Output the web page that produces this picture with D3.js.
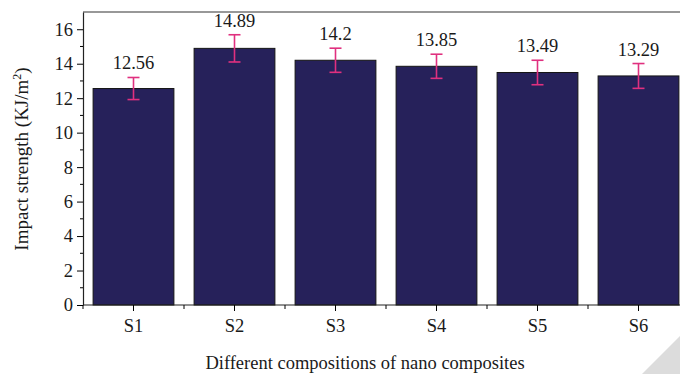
<!DOCTYPE html>
<html lang="en">
<head>
    <meta charset="UTF-8">
    <title>Impact strength</title>
    <style>
        body { margin: 0; background: #fff; }
        text { font-family: "Liberation Serif", "DejaVu Serif", serif; fill: #1a1a1a; }
    </style>
    <script src="https://cdn.jsdelivr.net/npm/d3@7"></script>
</head>
<body>
<svg class="chart"></svg>
<script>
    const
        categories = ['S1', 'S2', 'S3', 'S4', 'S5', 'S6'],
        values = [12.56, 14.89, 14.2, 13.85, 13.49, 13.29],
        errors = [0.64, 0.79, 0.7, 0.7, 0.71, 0.72],
        labels = ['12.56', '14.89', '14.2', '13.85', '13.49', '13.29'],
        yTicks = [0, 2, 4, 6, 8, 10, 12, 14, 16],
        width = 680,
        height = 374,
        fontSize = '18.5px',
        padding = {top: 12, left: 83, bottom: 69};

    const svg = d3.select('.chart').attr('width', width).attr('height', height);

    // 比例尺
    let x = d3.scaleBand().domain(categories).range([padding.left, 689]).paddingInner(0.2).paddingOuter(0.1),
        y = d3.scaleLinear().domain([0, 17]).range([height - padding.bottom, padding.top]);

    // 柱子
    svg.append('g').selectAll('rect')
        .data(categories).enter().append('rect')
        .attr('x', d => x(d))
        .attr('width', x.bandwidth())
        .attr('y', (d, i) => y(values[i]))
        .attr('height', (d, i) => y(0) - y(values[i]))
        .attr('fill', '#26215a')
        .attr('stroke', '#151515')
        .attr('stroke-width', 1);

    // 误差线
    let err = svg.append('g').attr('stroke', '#e0307f').attr('stroke-width', 1.6)
        .selectAll('g').data(categories).enter().append('g');
    err.append('line')
        .attr('x1', d => x(d) + x.bandwidth() / 2).attr('x2', d => x(d) + x.bandwidth() / 2)
        .attr('y1', (d, i) => y(values[i] - errors[i])).attr('y2', (d, i) => y(values[i] + errors[i]));
    [-1, 1].forEach(s => {
        err.append('line')
            .attr('x1', d => x(d) + x.bandwidth() / 2 - 6).attr('x2', d => x(d) + x.bandwidth() / 2 + 6)
            .attr('y1', (d, i) => y(values[i] + s * errors[i])).attr('y2', (d, i) => y(values[i] + s * errors[i]));
    });

    // 数值标签
    svg.append('g').selectAll('text')
        .data(categories).enter().append('text')
        .attr('x', d => x(d) + x.bandwidth() / 2)
        .attr('y', (d, i) => y(values[i] + errors[i]) - 8)
        .attr('text-anchor', 'middle')
        .style('font-size', fontSize)
        .text((d, i) => labels[i]);

    // 上边框
    svg.append('line')
        .attr('x1', padding.left).attr('x2', width)
        .attr('y1', y(17)).attr('y2', y(17))
        .attr('stroke', '#333').attr('stroke-width', 1.2);

    // y轴
    let yAxis = svg.append('g')
        .attr('transform', 'translate(' + padding.left + ',0)')
        .call(d3.axisLeft(y).tickValues(yTicks).tickSize(6).tickPadding(4).tickSizeOuter(0));
    yAxis.selectAll('.tick text').style('font-size', fontSize).attr('fill', '#1a1a1a');
    yAxis.append('g').selectAll('line')
        .data(d3.range(1, 17, 2)).enter().append('line')
        .attr('x1', -3).attr('x2', 0)
        .attr('y1', d => y(d)).attr('y2', d => y(d))
        .attr('stroke', '#000');
    yAxis.select('.domain').attr('stroke', '#222').attr('stroke-width', 1.2);

    // x轴
    let xAxis = svg.append('g')
        .attr('transform', 'translate(0,' + y(0) + ')')
        .call(d3.axisBottom(x).tickSize(6).tickPadding(8).tickSizeOuter(0));
    xAxis.select('.domain').attr('d', 'M' + padding.left + ',0H' + width).attr('stroke', '#222').attr('stroke-width', 1.2);
    xAxis.selectAll('.tick text').style('font-size', fontSize).attr('fill', '#1a1a1a');
    xAxis.append('g').selectAll('line')
        .data(categories).enter().append('line')
        .attr('x1', d => x(d) - x.step() * x.paddingInner() / 2)
        .attr('x2', d => x(d) - x.step() * x.paddingInner() / 2)
        .attr('y1', 0).attr('y2', 4)
        .attr('stroke', '#000');

    // 轴标题
    svg.append('text')
        .attr('x', 365).attr('y', 369)
        .attr('text-anchor', 'middle')
        .style('font-size', fontSize)
        .text('Different compositions of nano composites');

    let yTitle = svg.append('text')
        .attr('transform', 'translate(28,' + 159 + ') rotate(-90)')
        .attr('text-anchor', 'middle')
        .style('font-size', '19px');
    yTitle.append('tspan').text('Impact strength (KJ/m');
    yTitle.append('tspan').attr('dy', -7).style('font-size', '12px').text('2');
    yTitle.append('tspan').attr('dy', 7).text(')');

    // 右下角折角
    svg.append('polygon')
        .attr('points', '642,374 680,336 680,374')
        .attr('fill', '#dcdcdc');
</script>
</body>
</html>
